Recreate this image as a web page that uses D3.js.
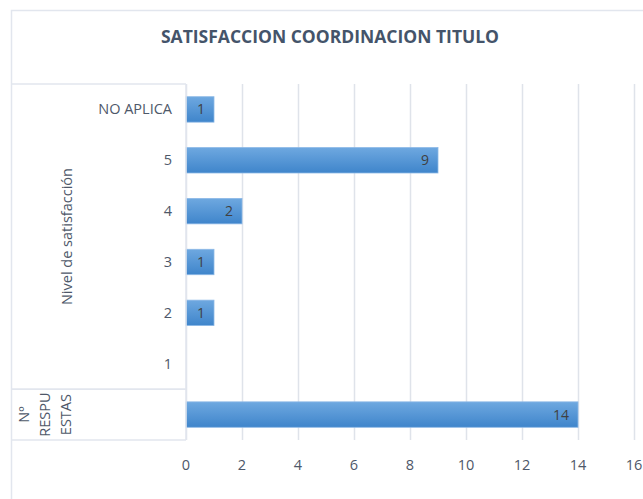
<!DOCTYPE html>
<html>
<head>
<meta charset="utf-8">
<script src="https://cdn.jsdelivr.net/npm/d3@7"></script>
<style>
  body { margin:0; background:#fff; }
  text { font-family: "Open Sans", "Noto Sans", sans-serif; }
</style>
</head>
<body>
<div id="chart"></div>
<script>
// data
const title = "SATISFACCION COORDINACION TITULO";
const categories = ["NO APLICA", "5", "4", "3", "2", "1", ""];
const counts = [1, 9, 2, 1, 1, null, 14];
const groups = [
  {label: ["Nivel de satisfacción"], from: "NO APLICA", to: "1"},
  {label: ["Nº", "RESPU", "ESTAS"], from: "", to: ""}
];
const xTicks = [0, 2, 4, 6, 8, 10, 12, 14, 16];

const W = 643, H = 499;
const margin = {top:84, right:9, bottom:59, left:186};
const width = W - margin.left - margin.right,
      height = H - margin.top - margin.bottom;
const textColor = "#4e5869";

const svg = d3.select("#chart").append("svg")
  .attr("width", W).attr("height", H);

// gradient for bars
const grad = svg.append("defs").append("linearGradient")
  .attr("id","barGrad").attr("x1",0).attr("x2",0).attr("y1",0).attr("y2",1);
grad.append("stop").attr("offset","0%").attr("stop-color","#6ea8e0");
grad.append("stop").attr("offset","100%").attr("stop-color","#3f85cb");

// chart border (extends past right edge)
svg.append("rect")
  .attr("x",11.5).attr("y",10.5).attr("width",W).attr("height",H)
  .attr("fill","none").attr("stroke","#e2e6ee").attr("stroke-width",1.5);

svg.append("text")
  .attr("x",330).attr("y",43)
  .attr("text-anchor","middle")
  .attr("font-size",17.5).attr("font-weight","bold")
  .attr("fill","#44546a")
  .text(title);

const g = svg.append("g").attr("transform",`translate(${margin.left},${margin.top})`);

const x = d3.scaleLinear().domain([0,16]).range([0,width]);
const y = d3.scaleBand().domain(categories.map((c,i)=>i)).range([0,height]).paddingInner(0.5).paddingOuter(0.25);
const yRow = d3.scaleBand().domain(categories.map((c,i)=>i)).range([0,height]);

// gridlines
g.append("g").selectAll("line").data(xTicks).enter().append("line")
  .attr("x1",d=>x(d)+0.5).attr("x2",d=>x(d)+0.5)
  .attr("y1",0).attr("y2",height)
  .attr("stroke","#dfe3ea").attr("stroke-width",1.5);

// x tick labels
g.append("g").selectAll("text").data(xTicks).enter().append("text")
  .attr("x",d=>x(d)).attr("y",height+30)
  .attr("text-anchor","middle")
  .attr("font-size",14.5).attr("fill",textColor)
  .text(d=>d);

// bars
const data = categories.map((c,i)=>({i, c, v: counts[i]})).filter(d=>d.v!=null);
g.selectAll("rect.bar").data(data).enter().append("rect")
  .attr("class","bar")
  .attr("x",x(0)).attr("y",d=>y(d.i))
  .attr("width",d=>x(d.v)-x(0)).attr("height",y.bandwidth())
  .attr("fill","url(#barGrad)")
  .attr("stroke","#8cb8e6").attr("stroke-width",0.8);

g.selectAll("text.val").data(data).enter().append("text")
  .attr("class","val")
  .attr("x",d=>x(d.v)-9).attr("y",d=>y(d.i)+y.bandwidth()/2+5)
  .attr("text-anchor","end")
  .attr("font-size",14).attr("fill","#404040")
  .text(d=>d.v);

// category labels
g.selectAll("text.cat").data(categories).enter().append("text")
  .attr("class","cat")
  .attr("x",-14).attr("y",(d,i)=>yRow(i)+yRow.bandwidth()/2+5)
  .attr("text-anchor","end")
  .attr("font-size",14.5).attr("fill",textColor)
  .text(d=>d);

// group boxes
const boxLeft = 11 - margin.left;
const lineColor = "#e2e6ee";
groups.forEach((gr)=>{
  const i0 = categories.indexOf(gr.from), i1 = categories.lastIndexOf(gr.to);
  const top = yRow(i0), bot = yRow(i1) + yRow.bandwidth();
  g.append("line").attr("x1",boxLeft).attr("x2",0).attr("y1",top).attr("y2",top)
    .attr("stroke",lineColor).attr("stroke-width",1.5);
  g.append("line").attr("x1",boxLeft).attr("x2",0).attr("y1",bot).attr("y2",bot)
    .attr("stroke",lineColor).attr("stroke-width",1.5);
  g.append("line").attr("x1",0).attr("x2",0).attr("y1",top).attr("y2",bot)
    .attr("stroke",lineColor).attr("stroke-width",1.5);
  const cy = (top+bot)/2;
  const lh = 21;
  const n = gr.label.length;
  const startX = n === 1 ? -114 : -157;
  gr.label.forEach((t,k)=>{
    const lx = startX + k*lh;
    g.append("text")
      .attr("transform",`translate(${lx},${cy}) rotate(-90)`)
      .attr("text-anchor","middle")
      .attr("font-size",14.5).attr("fill",textColor)
      .text(t);
  });
});
</script>
</body>
</html>
